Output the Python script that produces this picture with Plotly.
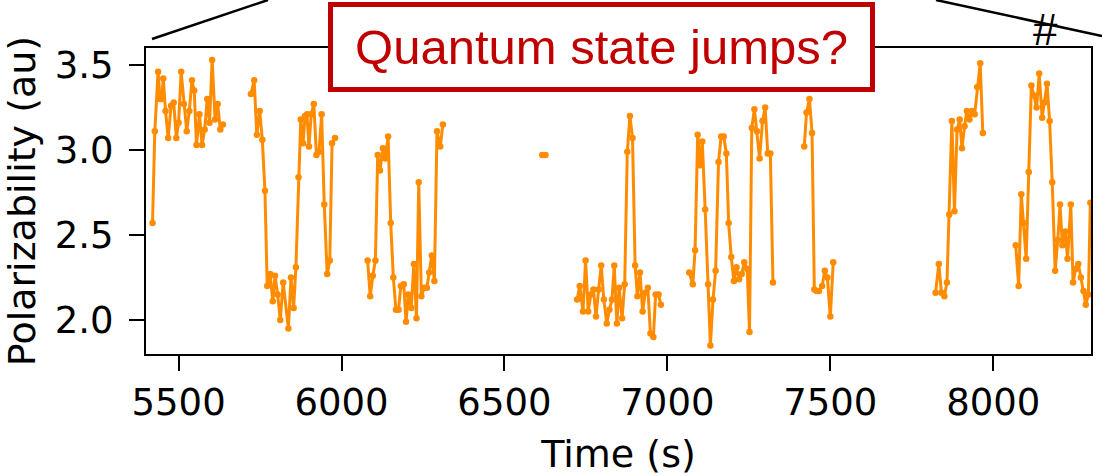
import plotly.graph_objects as go

# ---- data (time in s, polarizability in au), gaps between segments ----
seg1_t = [5420, 5427, 5437, 5443, 5448, 5453, 5460, 5468, 5477, 5485, 5493, 5500, 5508, 5516, 5525,
          5533, 5541, 5548, 5555, 5564, 5572, 5580, 5588, 5595, 5603, 5612, 5620, 5628, 5636]
seg1_v = [2.57, 3.11, 3.46, 3.30, 3.30, 3.42, 3.23, 3.07, 3.26, 3.28, 3.07, 3.16, 3.46, 3.27, 3.11,
          3.23, 3.41, 3.35, 3.03, 3.21, 3.03, 3.12, 3.30, 3.16, 3.53, 3.18, 3.27, 3.12, 3.15]

seg2_t = [5722, 5732, 5740, 5749, 5757, 5765, 5772, 5781, 5789, 5796, 5804, 5812, 5821, 5837, 5845,
          5853, 5860, 5868, 5875, 5882, 5888, 5894, 5900, 5907, 5915, 5923, 5931, 5939, 5947, 5956,
          5964, 5971, 5980]
seg2_v = [3.33, 3.41, 3.09, 3.23, 3.06, 2.76, 2.20, 2.27, 2.11, 2.26, 2.15, 2.00, 2.22, 1.95, 2.25,
          2.07, 2.31, 2.84, 3.18, 3.04, 3.20, 3.21, 3.02, 3.21, 3.27, 2.97, 2.99, 3.21, 2.68, 2.27,
          2.35, 3.04, 3.07]

seg3_t = [6080, 6088, 6096, 6104, 6111, 6118, 6127, 6135, 6143, 6151, 6159, 6167, 6175, 6182, 6191,
          6198, 6205, 6214, 6222, 6230, 6237, 6245, 6254, 6262, 6269, 6277, 6285, 6293, 6303, 6311]
seg3_v = [2.35, 2.14, 2.26, 2.35, 2.97, 2.88, 3.01, 2.95, 3.08, 2.57, 2.25, 2.06, 2.06, 2.20, 2.21,
          1.99, 2.15, 2.07, 2.33, 2.01, 2.81, 2.14, 2.19, 2.19, 2.28, 2.38, 2.23, 3.11, 3.02, 3.15]

seg4_t = [6616, 6626]
seg4_v = [2.97, 2.97]

seg5_t = [6723, 6731, 6741, 6749, 6757, 6765, 6773, 6781, 6789, 6797, 6805, 6814, 6822, 6830, 6837,
          6845, 6852, 6861, 6869, 6877, 6885, 6893, 6901, 6908, 6916, 6924, 6932, 6940, 6948, 6957,
          6964, 6973, 6980]
seg5_v = [2.12, 2.20, 2.05, 2.35, 2.05, 2.15, 2.18, 2.02, 2.18, 2.32, 2.12, 1.98, 2.06, 2.12, 2.32,
          1.98, 2.19, 2.01, 2.21, 2.99, 3.20, 3.07, 2.32, 2.14, 2.28, 2.05, 2.16, 2.19, 1.92, 1.90,
          2.15, 2.15, 2.09]

seg6_t = [7067, 7078, 7085, 7093, 7100, 7107, 7116, 7125, 7132, 7140, 7148, 7157, 7165, 7173, 7181,
          7188, 7196, 7204, 7212, 7220, 7228, 7236, 7245, 7252, 7259, 7267, 7275, 7283, 7292, 7300,
          7308, 7316, 7324]
seg6_v = [2.28, 2.21, 2.41, 3.09, 2.91, 3.05, 2.65, 2.21, 1.85, 2.12, 2.29, 2.93, 3.08, 3.08, 2.98,
          2.57, 2.37, 2.23, 2.31, 2.24, 2.27, 2.34, 2.30, 1.93, 3.13, 3.24, 3.11, 2.95, 3.17, 3.25,
          2.98, 2.98, 2.22]

seg7_t = [7420, 7427, 7436, 7444, 7451, 7458, 7465, 7475, 7483, 7491, 7500, 7509]
seg7_v = [3.02, 3.22, 3.30, 3.10, 2.18, 2.17, 2.17, 2.20, 2.29, 2.25, 2.02, 2.34]

seg8_t = [7823, 7833, 7841, 7850, 7858, 7865, 7873, 7881, 7889, 7897, 7904, 7912, 7919, 7927, 7935,
          7943, 7951, 7960, 7968]
seg8_v = [2.16, 2.33, 2.16, 2.14, 2.22, 2.62, 3.17, 2.64, 3.12, 3.18, 3.01, 3.14, 3.23, 3.18, 3.23,
          3.21, 3.37, 3.51, 3.10]

seg9_t = [8069, 8078, 8086, 8093, 8101, 8109, 8117, 8125, 8133, 8141, 8150, 8157, 8165, 8173, 8181,
          8190, 8198, 8205, 8212, 8221, 8228, 8238, 8245, 8253, 8261, 8269, 8277, 8284, 8292, 8298]
seg9_v = [2.44, 2.20, 2.74, 2.57, 2.36, 2.87, 3.38, 3.32, 3.25, 3.45, 3.19, 3.28, 3.39, 3.17, 2.81,
          2.29, 2.47, 2.68, 2.44, 2.52, 2.36, 2.68, 2.22, 2.30, 2.33, 2.25, 2.17, 2.09, 2.15, 2.69]

segments = [(seg1_t, seg1_v), (seg2_t, seg2_v), (seg3_t, seg3_v), (seg4_t, seg4_v),
            (seg5_t, seg5_v), (seg6_t, seg6_v), (seg7_t, seg7_v), (seg8_t, seg8_v),
            (seg9_t, seg9_v)]

x_ticks = [5500, 6000, 6500, 7000, 7500, 8000]
y_ticks = [2.0, 2.5, 3.0, 3.5]

xs, ys = [], []
for t, v in segments:
    xs += t + [None]
    ys += v + [None]

ORANGE = "#FF8C00"
RED = "#C00000"
FONT = "DejaVu Sans"

fig = go.Figure()
fig.add_trace(go.Scatter(
    x=xs, y=ys, mode="lines+markers", connectgaps=False,
    line=dict(color=ORANGE, width=3),
    marker=dict(color=ORANGE, size=6.5),
    showlegend=False, cliponaxis=True,
))

L, R, T, B = 146, 11, 48, 122
W, H = 1102, 476
pw, ph = W - L - R, H - T - B


def px(xp):
    return (xp - L) / pw


def py(yp):
    return (H - B - yp) / ph


fig.update_layout(
    width=W, height=H,
    margin=dict(l=L, r=R, t=T, b=B, autoexpand=False),
    paper_bgcolor="white", plot_bgcolor="white",
    font=dict(family=FONT, size=37, color="black"),
    xaxis=dict(
        range=[5400, 8300], tickvals=x_ticks, ticktext=[str(v) for v in x_ticks],
        showgrid=False, zeroline=False,
        showline=True, linecolor="black", linewidth=2, mirror=True,
        ticks="outside", ticklen=15, tickwidth=2, tickcolor="black",
        tickfont=dict(family=FONT, size=37, color="black"),
        ticklabelstandoff=0,
        title=dict(text="Time (s)", font=dict(family=FONT, size=38), standoff=18),
        automargin=False,
    ),
    yaxis=dict(
        range=[1.8, 3.6], tickvals=y_ticks, ticktext=[f"{v:.1f}" for v in y_ticks],
        showgrid=False, zeroline=False,
        showline=True, linecolor="black", linewidth=2, mirror=True,
        ticks="outside", ticklen=15, tickwidth=2, tickcolor="black",
        tickfont=dict(family=FONT, size=37, color="black"),
        ticklabelstandoff=8,
        title=dict(text="Polarizability (au)", font=dict(family=FONT, size=38), standoff=12),
        automargin=False,
    ),
    shapes=[
        dict(type="line", xref="paper", yref="paper",
             x0=px(152), y0=py(39), x1=px(268), y1=py(0),
             line=dict(color="black", width=2.5)),
        dict(type="line", xref="paper", yref="paper",
             x0=px(936), y0=py(0), x1=px(1102), y1=py(36),
             line=dict(color="black", width=2.5)),
    ],
    annotations=[
        dict(text="Quantum state jumps?", xref="paper", yref="paper",
             x=px(601), y=py(47), xanchor="center", yanchor="middle",
             showarrow=False, font=dict(family="Liberation Sans", size=49, color=RED),
             bgcolor="white", bordercolor=RED, borderwidth=5, borderpad=0,
             width=537, height=80, align="center", valign="middle"),
        dict(text="#", xref="paper", yref="paper",
             x=px(1045), y=py(30), xanchor="center", yanchor="middle",
             showarrow=False, font=dict(family="Liberation Sans", size=44, color="black")),
    ],
)

fig.write_html("out.html")
